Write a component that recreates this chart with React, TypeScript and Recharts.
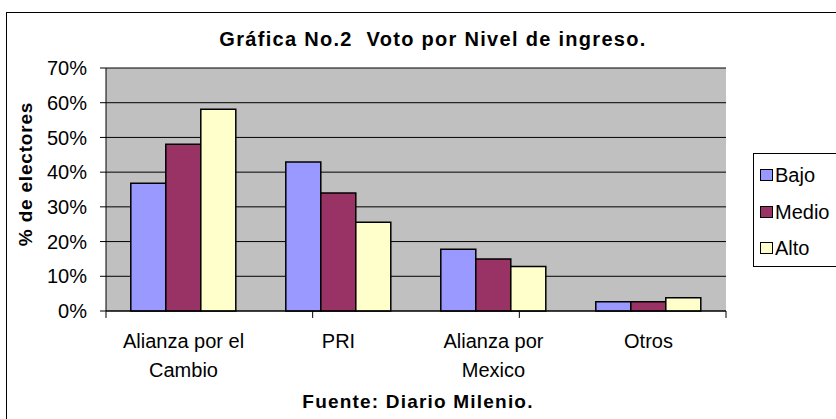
import React from "react";
import { Bar, BarChart, CartesianGrid, ReferenceArea, ReferenceLine, XAxis, YAxis } from "recharts";

const categoryLines = [["Alianza por el", "Cambio"], ["PRI"], ["Alianza por", "Mexico"], ["Otros"]];
const bajo = [36.8, 42.9, 17.8, 2.7];
const medio = [48.0, 34.0, 15.0, 2.7];
const alto = [58.1, 25.6, 12.8, 3.8];
const yTicks = [0, 10, 20, 30, 40, 50, 60, 70];
const edgeTicks = [0, 1, 2, 3, 4];

const series = [
  { key: "bajo", name: "Bajo", color: "#9999FF" },
  { key: "medio", name: "Medio", color: "#993366" },
  { key: "alto", name: "Alto", color: "#FFFFCC" },
];

const data = categoryLines.map((lines, i) => ({
  name: lines.join(" "),
  bajo: bajo[i],
  medio: medio[i],
  alto: alto[i],
}));

const FONT = "'Liberation Sans', Arial, sans-serif";

function CategoryTick(props: any) {
  const { x, y, index } = props;
  const lines = categoryLines[index] || [];
  return (
    <text x={x} y={y + 37} textAnchor="middle" fill="#000" style={{ fontSize: 20, fontFamily: FONT }}>
      {lines.map((line, i) => (
        <tspan key={i} x={x} dy={i === 0 ? 0 : 29}>
          {line}
        </tspan>
      ))}
    </text>
  );
}

export default function App() {
  return (
    <div
      style={{
        position: "absolute",
        left: 0,
        top: 0,
        width: 836,
        height: 419,
        overflow: "hidden",
        background: "#fff",
        fontFamily: FONT,
        color: "#000",
      }}
    >
      <div
        style={{
          position: "absolute",
          left: 6,
          top: 12,
          width: 900,
          height: 500,
          border: "1px solid #000",
        }}
      />
      <div
        style={{
          position: "absolute",
          left: 133,
          top: 28,
          width: 600,
          textAlign: "center",
          fontSize: 20,
          fontWeight: "bold",
          letterSpacing: 1.3,
          lineHeight: "22px",
          whiteSpace: "pre",
        }}
      >
        {"Gráfica No.2  Voto por Nivel de ingreso."}
      </div>
      <div
        style={{
          position: "absolute",
          left: 26 - 100,
          top: 174 - 12,
          width: 200,
          textAlign: "center",
          fontSize: 19,
          fontWeight: "bold",
          letterSpacing: 0.8,
          lineHeight: "24px",
          transform: "rotate(-90deg)",
        }}
      >
        % de electores
      </div>
      <div
        style={{
          position: "absolute",
          left: 218,
          top: 391,
          width: 400,
          textAlign: "center",
          fontSize: 19,
          fontWeight: "bold",
          letterSpacing: 1.2,
          lineHeight: "22px",
        }}
      >
        Fuente: Diario Milenio.
      </div>
      <div style={{ position: "absolute", left: 0, top: 0 }}>
        <BarChart
          width={836}
          height={419}
          data={data}
          margin={{ top: 68, right: 110, bottom: 0, left: 0 }}
          barCategoryGap="16%"
          barGap={0}
        >
          <XAxis
            xAxisId="cat"
            dataKey="name"
            height={108}
            interval={0}
            tickLine={false}
            tickSize={0}
            tickMargin={0}
            axisLine={{ stroke: "#000" }}
            tick={<CategoryTick />}
          />
          <XAxis xAxisId="edge" type="number" domain={[0, 4]} ticks={edgeTicks} hide allowDataOverflow />
          <YAxis
            width={106}
            domain={[0, 70]}
            ticks={yTicks}
            tickFormatter={(v: number) => `${v}%`}
            tick={{ fill: "#000", fontSize: 20, fontFamily: FONT }}
            tickLine={{ stroke: "#000" }}
            tickSize={6}
            tickMargin={13}
            axisLine={{ stroke: "#000" }}
          />
          <CartesianGrid xAxisId="cat" vertical={false} fill="#C0C0C0" fillOpacity={1} stroke="#000" />
          <ReferenceArea
            xAxisId="edge"
            x1={0}
            x2={4}
            y1={0}
            y2={70}
            fill="none"
            stroke="#808080"
            strokeWidth={1.5}
          />
          {series.map((s) => (
            <Bar
              key={s.key}
              xAxisId="cat"
              dataKey={s.key}
              name={s.name}
              fill={s.color}
              stroke="#000"
              strokeWidth={1.5}
              isAnimationActive={false}
            />
          ))}
          {edgeTicks.map((t) => (
            <ReferenceLine
              key={t}
              xAxisId="edge"
              segment={[
                { x: t, y: 0 },
                { x: t, y: -2 },
              ]}
              stroke="#000"
              ifOverflow="visible"
            />
          ))}
        </BarChart>
      </div>
      <div
        style={{
          position: "absolute",
          left: 753,
          top: 153,
          width: 110,
          height: 114,
          border: "1px solid #000",
          background: "#fff",
          paddingTop: 3,
          boxSizing: "border-box",
        }}
      >
        {series.map((s) => (
          <div
            key={s.key}
            style={{ display: "flex", alignItems: "center", height: 36.5, fontSize: 20, lineHeight: "36.5px" }}
          >
            <span
              style={{
                display: "inline-block",
                width: 11,
                height: 10,
                marginLeft: 6,
                marginRight: 2,
                background: s.color,
                border: "1.5px solid #000",
              }}
            />
            {s.name}
          </div>
        ))}
      </div>
    </div>
  );
}
